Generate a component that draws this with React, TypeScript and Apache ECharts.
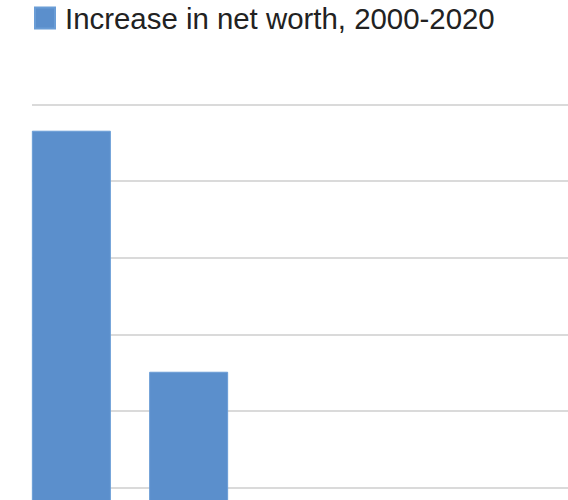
import React, { useEffect, useRef } from "react";
import * as echarts from "echarts";

const seriesName = "Increase in net worth, 2000-2020";
const categories = ["Group A", "Group B"];
const netWorthIncrease = [5.66, 2.51];
const yMin = 0;
const yMax = 6;
const yInterval = 1;

export default function App() {
  const ref = useRef<HTMLDivElement>(null);
  useEffect(() => {
    if (!ref.current) return;
    const chart = echarts.init(ref.current, undefined, { renderer: "svg" });
    chart.setOption({
      animation: false,
      backgroundColor: "#ffffff",
      legend: {
        data: [seriesName],
        left: 34,
        top: 3,
        padding: 0,
        itemWidth: 20,
        itemHeight: 21,
        icon: "rect",
        textStyle: {
          fontFamily: "Liberation Sans, Arial, sans-serif",
          fontSize: 29.4,
          lineHeight: 30,
          color: "#222222",
          padding: [0, 0, 0, 5],
        },
      },
      grid: [
        { left: 32, width: 600, top: 104.7, height: 459.1 },
        { left: 12.7, width: 234.6, top: 104.7, height: 459.1 },
      ],
      xAxis: [
        { type: "value", gridIndex: 0, min: 0, max: 1, show: false },
        {
          type: "category",
          gridIndex: 1,
          data: categories,
          boundaryGap: true,
          show: false,
        },
      ],
      yAxis: [
        {
          type: "value",
          gridIndex: 0,
          min: yMin,
          max: yMax,
          interval: yInterval,
          axisLabel: { show: false },
          axisLine: { show: false },
          axisTick: { show: false },
          splitLine: { show: true, lineStyle: { color: "#dadada", width: 2 } },
        },
        {
          type: "value",
          gridIndex: 1,
          min: yMin,
          max: yMax,
          interval: yInterval,
          show: false,
        },
      ],
      series: [
        {
          name: seriesName,
          type: "bar",
          xAxisIndex: 1,
          yAxisIndex: 1,
          data: netWorthIncrease,
          barWidth: 79,
          itemStyle: {
            color: "#5b8fcc",
            borderColor: "#6a9dd6",
            borderWidth: 1,
          },
        },
      ],
    });
    return () => chart.dispose();
  }, []);
  return (
    <div
      style={{
        position: "fixed",
        top: 0,
        left: 0,
        width: 568,
        height: 500,
        overflow: "hidden",
        background: "#ffffff",
      }}
    >
      <div ref={ref} style={{ width: 640, height: 600 }} />
    </div>
  );
}
